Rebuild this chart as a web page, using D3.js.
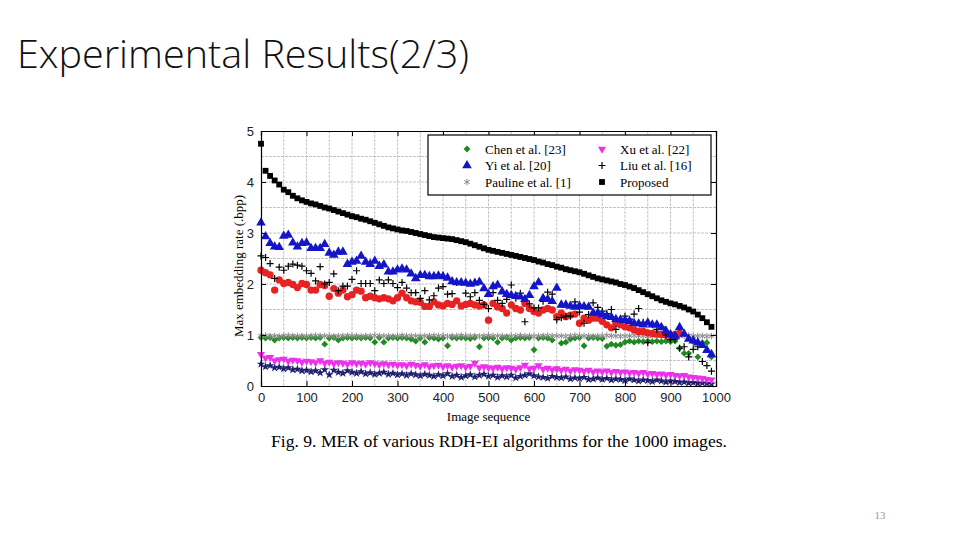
<!DOCTYPE html>
<html lang="en">
<head>
<meta charset="UTF-8">
<title>Experimental Results(2/3)</title>
<script src="https://cdn.jsdelivr.net/npm/d3@7"></script>
<style>
  body { margin: 0; background: #fff; }
</style>
</head>
<body>
<script>
// image index of every plotted sample (one mark every 10 images)
let imageIdx = d3.range(0, 1000, 10)

let xTicks = [0, 100, 200, 300, 400, 500, 600, 700, 800, 900, 1000]
let yTicks = [0, 1, 2, 3, 4, 5]

// values, in bpp
let proposed = [4.75,4.22,4.12,4.03,3.95,3.85,3.80,3.73,3.68,3.64,
  3.61,3.58,3.56,3.53,3.50,3.48,3.45,3.42,3.39,3.36,
  3.33,3.31,3.28,3.26,3.23,3.20,3.17,3.14,3.11,3.09,
  3.07,3.05,3.04,3.02,3.00,2.98,2.96,2.94,2.92,2.91,
  2.90,2.89,2.88,2.86,2.84,2.82,2.79,2.76,2.73,2.70,
  2.67,2.65,2.63,2.61,2.59,2.57,2.55,2.53,2.51,2.49,
  2.47,2.44,2.42,2.39,2.37,2.34,2.32,2.29,2.27,2.25,
  2.23,2.20,2.17,2.14,2.11,2.09,2.07,2.05,2.03,2.00,
  1.98,1.95,1.92,1.88,1.84,1.80,1.76,1.72,1.68,1.65,
  1.62,1.60,1.57,1.54,1.50,1.46,1.40,1.33,1.25,1.16]

let yi = [3.20,2.93,2.80,2.73,2.72,2.94,2.96,2.81,2.73,2.80,
  2.81,2.70,2.70,2.70,2.78,2.61,2.57,2.63,2.63,2.39,
  2.43,2.45,2.55,2.43,2.39,2.45,2.35,2.38,2.24,2.24,
  2.28,2.30,2.28,2.20,2.11,2.17,2.17,2.15,2.15,2.16,
  2.15,2.12,2.05,2.03,2.03,2.02,2.00,2.02,2.04,1.91,
  1.80,1.95,1.98,1.85,1.80,1.78,1.76,1.75,1.70,1.78,
  1.95,2.03,1.72,1.70,1.66,1.92,1.59,1.59,1.57,1.55,
  1.57,1.56,1.55,1.43,1.43,1.40,1.37,1.35,1.31,1.30,
  1.29,1.27,1.23,1.22,1.20,1.24,1.20,1.20,1.15,1.08,
  1.01,0.98,1.15,1.02,0.92,0.89,0.85,0.80,0.70,0.62]

// red circles stop around image 920
let unnamedRed = [2.27,2.22,2.18,1.88,2.08,2.01,2.03,1.99,1.93,2.01,
  1.99,1.88,1.88,1.99,1.97,1.76,1.91,1.82,1.88,1.75,
  1.79,1.88,1.86,1.73,1.76,1.73,1.71,1.73,1.71,1.67,
  1.73,1.82,1.73,1.67,1.65,1.64,1.56,1.56,1.65,1.59,
  1.57,1.62,1.60,1.67,1.57,1.60,1.62,1.59,1.57,1.59,
  1.29,1.62,1.55,1.52,1.43,1.59,1.52,1.49,1.62,1.52,
  1.46,1.43,1.49,1.52,1.49,1.36,1.43,1.36,1.39,1.41,
  1.23,1.33,1.29,1.33,1.33,1.27,1.20,1.14,1.23,1.20,
  1.16,1.14,1.10,1.07,1.07,1.04,1.03,1.02,1.01,1.00,
  0.99,1.01,1.03]

let liu = [2.55,2.52,2.40,2.11,2.33,2.27,2.35,2.39,2.37,2.35,
  2.26,2.21,2.06,2.34,2.00,2.03,2.20,1.87,1.96,1.96,
  2.09,2.26,2.01,2.01,2.01,1.87,2.08,2.01,2.08,2.01,
  1.93,2.03,1.92,1.83,1.83,1.72,1.87,1.69,1.77,1.92,
  1.95,1.80,1.81,2.03,2.03,1.82,1.75,1.83,1.68,1.60,
  1.52,1.83,1.68,1.62,1.70,1.98,1.72,1.82,1.26,1.61,
  1.53,1.53,1.66,1.84,1.80,1.30,1.34,1.37,1.37,1.65,
  1.45,1.23,1.40,1.63,1.54,1.47,1.42,1.50,1.11,1.30,
  1.37,1.31,1.41,1.52,1.25,0.85,1.20,1.11,1.16,1.00,
  0.91,0.92,0.74,0.77,0.57,0.72,0.77,0.48,0.40,0.29]

let pauline = [0.98,0.99,0.98,0.98,0.97,0.98,0.99,0.98,0.98,0.98,
  0.97,0.98,0.99,0.98,0.98,0.98,0.97,0.98,0.98,0.99,
  0.98,0.98,0.97,0.98,0.98,0.99,0.98,0.98,0.98,0.97,
  0.98,0.99,0.98,0.98,0.98,0.97,0.98,0.98,0.99,0.98,
  0.98,0.97,0.98,0.98,0.99,0.98,0.98,0.98,0.97,0.98,
  0.99,0.98,0.98,0.98,0.97,0.98,0.98,0.99,0.98,0.98,
  0.97,0.98,0.98,0.99,0.98,0.98,0.98,0.97,0.98,0.99,
  0.98,0.98,0.98,0.97,0.98,0.98,0.99,0.98,0.98,0.97,
  0.98,0.98,0.99,0.98,0.98,0.97,0.98,0.98,0.99,0.98,
  0.98,0.97,0.98,0.98,0.99,0.98,0.98,0.98,0.97,0.98]

let chen = [0.95,0.94,0.95,0.90,0.94,0.95,0.94,0.95,0.94,0.95,
  0.94,0.95,0.94,0.95,0.82,0.94,0.95,0.90,0.94,0.95,
  0.94,0.95,0.94,0.95,0.94,0.86,0.95,0.86,0.94,0.95,
  0.94,0.95,0.94,0.92,0.88,0.94,0.86,0.95,0.94,0.92,
  0.94,0.79,0.95,0.94,0.95,0.94,0.93,0.95,0.77,0.94,
  0.95,0.94,0.86,0.94,0.95,0.90,0.94,0.95,0.94,0.95,
  0.71,0.94,0.95,0.94,0.90,0.33,0.84,0.86,0.92,0.94,
  0.95,0.79,0.94,0.95,0.94,0.93,0.78,0.82,0.80,0.81,
  0.86,0.88,0.86,0.88,0.87,0.88,0.87,0.88,0.87,0.88,
  0.87,0.88,0.74,0.64,0.64,0.87,0.57,0.85,0.85,0.57]

let xu = [0.62,0.55,0.56,0.50,0.52,0.53,0.49,0.51,0.50,0.47,
  0.49,0.48,0.46,0.50,0.45,0.47,0.44,0.46,0.45,0.43,
  0.46,0.44,0.45,0.43,0.46,0.44,0.42,0.44,0.42,0.43,
  0.41,0.42,0.40,0.43,0.41,0.39,0.42,0.38,0.40,0.41,
  0.38,0.40,0.37,0.39,0.40,0.37,0.39,0.45,0.36,0.38,
  0.36,0.35,0.37,0.34,0.36,0.35,0.33,0.36,0.41,0.34,
  0.35,0.40,0.33,0.35,0.32,0.34,0.31,0.33,0.30,0.32,
  0.31,0.29,0.31,0.28,0.30,0.28,0.30,0.27,0.29,0.27,
  0.28,0.26,0.27,0.25,0.27,0.24,0.25,0.23,0.24,0.22,
  0.23,0.21,0.20,0.21,0.18,0.17,0.16,0.15,0.13,0.12]

let unnamedStar = [0.43,0.38,0.40,0.36,0.37,0.34,0.36,0.32,0.33,0.30,
  0.31,0.28,0.30,0.26,0.32,0.22,0.31,0.27,0.25,0.30,
  0.27,0.25,0.28,0.24,0.26,0.23,0.25,0.27,0.23,0.25,
  0.22,0.24,0.21,0.24,0.22,0.20,0.23,0.21,0.19,0.22,
  0.20,0.24,0.19,0.21,0.17,0.20,0.22,0.18,0.21,0.23,
  0.19,0.21,0.17,0.20,0.18,0.21,0.16,0.19,0.21,0.24,
  0.20,0.18,0.17,0.15,0.19,0.17,0.16,0.18,0.14,0.16,
  0.15,0.17,0.13,0.14,0.16,0.13,0.15,0.12,0.14,0.13,
  0.11,0.14,0.12,0.10,0.12,0.11,0.09,0.12,0.10,0.08,
  0.10,0.09,0.07,0.08,0.06,0.07,0.05,0.06,0.05,0.04]

let legendNames = ['Chen et al. [23]', 'Yi et al. [20]', 'Pauline et al. [1]',
  'Xu et al. [22]', 'Liu et al. [16]', 'Proposed']

let width = 960, height = 540
let plotLeft = 261, plotRight = 716, plotTop = 131, plotBottom = 386

let svg = d3.select('body').append('svg')
    .attr('width', width)
    .attr('height', height)
    .style('background-color', '#fff')

let x = d3.scaleLinear().domain([0, 1000]).range([plotLeft, plotRight])
let y = d3.scaleLinear().domain([0, 5]).range([plotBottom, plotTop])

// slide title + page number
svg.append('text')
    .attr('x', 17).attr('y', 68)
    .attr('font-family', 'Open Sans, Lato, sans-serif')
    .attr('font-weight', 300)
    .attr('font-size', 38)
    .attr('textLength', 452)
    .attr('lengthAdjust', 'spacingAndGlyphs')
    .attr('fill', '#111')
    .text('Experimental Results(2/3)')

svg.append('text')
    .attr('x', 880).attr('y', 519)
    .attr('text-anchor', 'middle')
    .attr('font-family', 'Liberation Serif, serif')
    .attr('font-size', 11)
    .attr('fill', '#999')
    .text('13')

// grid
let grid = svg.append('g')
    .attr('stroke', '#c4c4c4')
    .attr('stroke-width', 1)
    .attr('stroke-dasharray', '3,1')
grid.selectAll('line.gx')
    .data(d3.range(50, 1000, 50))
    .enter().append('line')
    .attr('x1', d => x(d)).attr('x2', d => x(d))
    .attr('y1', plotTop).attr('y2', plotBottom)
grid.selectAll('line.gy')
    .data(d3.range(0.5, 5, 0.5))
    .enter().append('line')
    .attr('y1', d => y(d)).attr('y2', d => y(d))
    .attr('x1', plotLeft).attr('x2', plotRight)

// markers, back to front
let chenStyle = {vals: chen, shape: d3.symbolDiamond2, size: 30, fill: '#1f8a1f', stroke: 'none'}
let paulineStyle = {vals: pauline, shape: d3.symbolAsterisk, size: 30, fill: 'none', stroke: '#8c8c8c', sw: 1}
let starStyle = {vals: unnamedStar, shape: d3.symbolStar, size: 24, fill: '#20206e', stroke: 'none'}
let xuStyle = {vals: xu, shape: d3.symbolTriangle, size: 28, fill: '#ee30ee', stroke: 'none', flip: true}
let redStyle = {vals: unnamedRed, shape: d3.symbolCircle, size: 42, fill: '#e62222', stroke: 'none'}
let liuStyle = {vals: liu, fill: 'none', stroke: '#000', sw: 1.2, plus: true}
let yiStyle = {vals: yi, shape: d3.symbolTriangle, size: 40, fill: '#1515c8', stroke: 'none'}
let proposedStyle = {vals: proposed, shape: d3.symbolSquare, size: 34, fill: '#000', stroke: 'none'}

let series = [chenStyle, paulineStyle, starStyle, xuStyle, redStyle, liuStyle, yiStyle, proposedStyle]

function drawMarks(sel, s) {
    sel.attr('fill', s.fill)
        .attr('stroke', s.stroke)
        .attr('stroke-width', s.sw || 0)
    if (s.plus) sel.attr('d', 'M-3.5,0H3.5M0,-3.5V3.5')
    else sel.attr('d', d3.symbol(s.shape, s.size))
}

series.forEach(function (s) {
    let pts = svg.append('g').selectAll('path')
        .data(s.vals)
        .enter().append('path')
        .attr('transform', (d, i) => 'translate(' + x(imageIdx[i]) + ',' + y(d) + ')' + (s.flip ? ' rotate(180)' : ''))
    drawMarks(pts, s)
})

// frame and inward ticks on all four sides
svg.append('g')
    .attr('transform', 'translate(0,' + plotBottom + ')')
    .call(d3.axisBottom(x).tickValues(xTicks).tickSize(-5).tickPadding(7).tickFormat(d3.format('d')))
svg.append('g')
    .attr('transform', 'translate(' + plotLeft + ',0)')
    .call(d3.axisLeft(y).tickValues(yTicks).tickSize(-5).tickPadding(7).tickFormat(d3.format('d')))
svg.append('g')
    .attr('transform', 'translate(0,' + plotTop + ')')
    .call(d3.axisTop(x).tickValues(xTicks).tickSize(-5).tickFormat(''))
svg.append('g')
    .attr('transform', 'translate(' + plotRight + ',0)')
    .call(d3.axisRight(y).tickValues(yTicks).tickSize(-5).tickFormat(''))
svg.selectAll('.tick text')
    .attr('font-family', 'Liberation Sans, Arial, sans-serif')
    .attr('font-size', 13)
    .attr('fill', '#222')
svg.selectAll('.domain').attr('stroke', '#000').attr('stroke-width', 1.2)

// axis titles and caption
svg.append('text')
    .attr('transform', 'translate(243,266) rotate(-90)')
    .attr('text-anchor', 'middle')
    .attr('font-family', 'Liberation Serif, serif')
    .attr('font-size', 13)
    .text('Max embedding rate (.bpp)')
svg.append('text')
    .attr('x', (plotLeft + plotRight) / 2).attr('y', 421)
    .attr('text-anchor', 'middle')
    .attr('font-family', 'Liberation Serif, serif')
    .attr('font-size', 13)
    .text('Image sequence')
svg.append('text')
    .attr('x', 499).attr('y', 447)
    .attr('text-anchor', 'middle')
    .attr('font-family', 'Liberation Serif, serif')
    .attr('font-size', 17.6)
    .text('Fig. 9. MER of various RDH-EI algorithms for the 1000 images.')

// legend
let legend = svg.append('g')
legend.append('rect')
    .attr('x', 428).attr('y', 135)
    .attr('width', 283).attr('height', 60)
    .attr('fill', '#fff')
    .attr('stroke', '#000')
    .attr('stroke-width', 1.2)
let legendMarks = [chenStyle, yiStyle, paulineStyle, xuStyle, liuStyle, proposedStyle]
legendNames.forEach(function (name, i) {
    let col = Math.floor(i / 3), row = i % 3
    let mx = col === 0 ? 467 : 602
    let my = 149 + row * 16.5
    let s = legendMarks[i]
    let m = legend.append('path')
        .attr('transform', 'translate(' + mx + ',' + my + ')' + (s.flip ? ' rotate(180)' : ''))
    drawMarks(m, s)
    legend.append('text')
        .attr('x', mx + 18).attr('y', my + 4.5)
        .attr('font-family', 'Liberation Serif, serif')
        .attr('font-size', 13)
        .text(name)
})
</script>
</body>
</html>
